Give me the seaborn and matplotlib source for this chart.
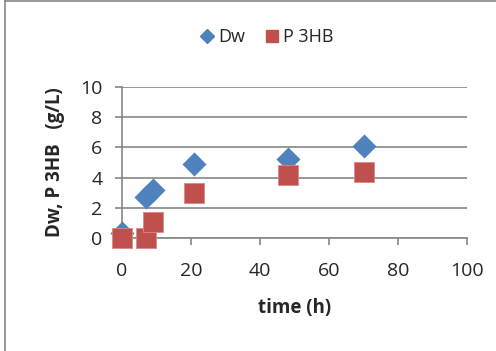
import matplotlib
matplotlib.use("Agg")
import matplotlib.pyplot as plt
import seaborn as sns
import pandas as pd
from matplotlib.lines import Line2D

time_dw = [0, 7, 9, 21, 48, 70]
dw = [0.3, 2.7, 3.2, 4.9, 5.2, 6.1]
time_phb = [0, 7, 9, 21, 48, 70]
phb = [0.0, 0.0, 1.05, 3.0, 4.15, 4.35]

blue = "#4F81BD"
red = "#C0504D"
grey = "#868686"

sns.set_style("white")
plt.rcParams['font.family'] = ['Open Sans', 'DejaVu Sans']

fig = plt.figure(figsize=(4.96, 3.51), dpi=100)
ax = fig.add_axes([122 / 496, 1 - 238 / 351, (467 - 122) / 496, (238 - 87) / 351])

df_dw = pd.DataFrame({"time": time_dw, "value": dw})
df_phb = pd.DataFrame({"time": time_phb, "value": phb})

sns.scatterplot(data=df_dw, x="time", y="value", ax=ax, marker="D", s=150,
                color=blue, edgecolor=blue, linewidth=0, zorder=3, clip_on=False)
sns.scatterplot(data=df_phb, x="time", y="value", ax=ax, marker="s", s=210,
                color=red, edgecolor="#D88A88", linewidth=0.6, zorder=4, clip_on=False)

ax.set_xlim(0, 100)
ax.set_ylim(0, 10)
ax.set_xticks(range(0, 101, 20))
ax.set_yticks(range(0, 11, 2))
ax.grid(axis="y", color=grey, linewidth=1.2)
ax.set_axisbelow(True)
for side in ["top", "right"]:
    ax.spines[side].set_visible(False)
for side in ["left", "bottom"]:
    ax.spines[side].set_color(grey)
    ax.spines[side].set_linewidth(1.2)
ax.tick_params(axis="both", direction="out", length=5, width=1.2, color=grey,
               labelsize=14, bottom=True, left=True)
ax.tick_params(axis="x", pad=12)
ax.tick_params(axis="y", pad=9)

ax.set_xlabel("time (h)", fontsize=13.5, fontweight="bold", labelpad=13)
ax.set_ylabel("Dw, P 3HB   (g/L)", fontsize=13.5, fontweight="bold", labelpad=11)

handles = [
    Line2D([], [], marker="D", color=blue, linestyle="", markersize=7),
    Line2D([], [], marker="s", color=red, linestyle="", markersize=8),
]
fig.legend(handles, ["Dw", "P 3HB"], loc="center", bbox_to_anchor=(266 / 496, 1 - 37 / 351),
           ncol=2, frameon=False, fontsize=13, handletextpad=0.1, columnspacing=1.0,
           handlelength=1.0)
if ax.get_legend() is not None:
    ax.get_legend().remove()

# outer chart frame (left and top edges visible in the crop)
fig.add_artist(Line2D([5 / 496, 5 / 496], [0, 1], color=grey, linewidth=1.2))
fig.add_artist(Line2D([5 / 496, 1], [1 - 1 / 351, 1 - 1 / 351], color=grey, linewidth=1.2))

fig.savefig("out.png", dpi=100)
